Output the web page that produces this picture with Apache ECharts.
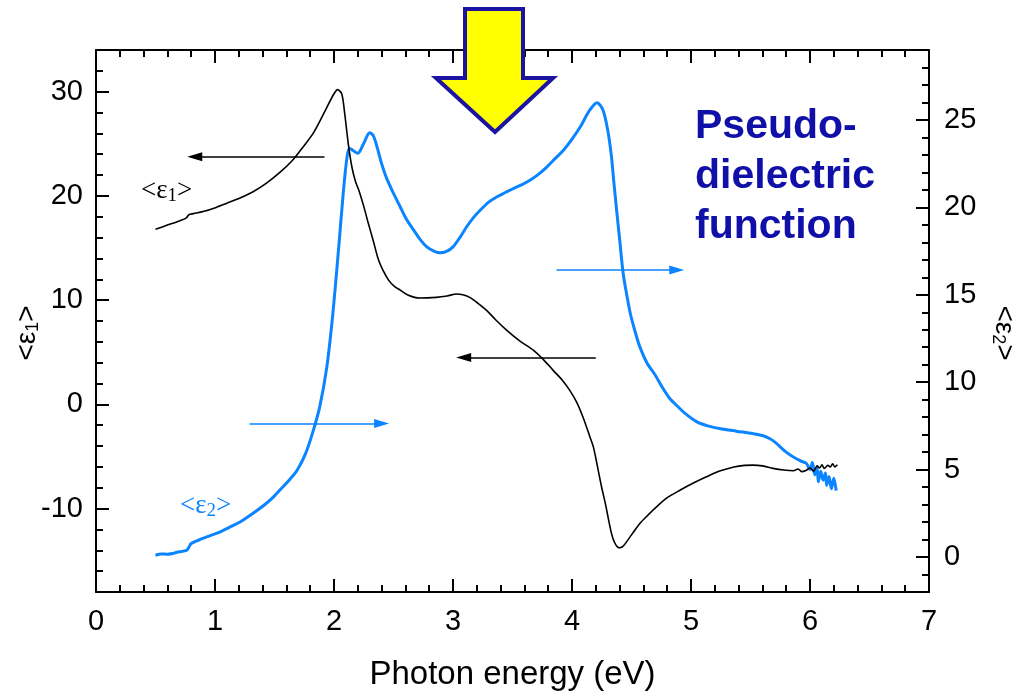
<!DOCTYPE html>
<html>
<head>
<meta charset="utf-8">
<script src="https://cdn.jsdelivr.net/npm/echarts@6/dist/echarts.min.js"></script>
<style>
html,body{margin:0;padding:0;background:#fff;}
#chart{width:1026px;height:693px;}
</style>
</head>
<body>
<div id="chart"></div>
<script>
// ---- data ----
const energy1 = [0.50,0.60,0.70,0.76,0.78,0.82,0.90,1.01,1.10,1.21,1.32,1.43,1.55,1.65,1.72,1.83,1.94,2.00,2.03,2.065,2.09,2.12,2.15,2.18,2.21,2.25,2.29,2.33,2.37,2.41,2.46,2.51,2.555,2.62,2.72,2.86,2.95,3.03,3.09,3.14,3.21,3.28,3.36,3.45,3.56,3.675,3.76,3.84,3.92,3.98,4.04,4.095,4.15,4.18,4.22,4.25,4.28,4.33,4.36,4.40,4.43,4.47,4.52,4.57,4.64,4.71,4.80,4.91,5.02,5.13,5.24,5.36,5.45,5.52,5.60,5.69,5.78,5.86,5.90,5.93,5.97,6.00,6.03,6.06,6.08,6.10,6.12,6.15,6.17,6.19,6.21,6.23];
const eps1 = [16.8,17.2,17.6,17.9,18.2,18.3,18.5,18.9,19.3,19.8,20.4,21.2,22.3,23.4,24.4,26.1,28.5,29.8,30.2,29.8,27.9,25.0,22.8,21.4,20.5,19.0,17.3,15.7,14.0,12.9,11.9,11.3,10.97,10.5,10.2,10.27,10.4,10.59,10.5,10.27,9.7,9.05,8.1,7.13,6.1,5.21,4.3,3.29,2.3,1.37,0.2,-1.3,-3.1,-4.1,-6.3,-8.0,-9.5,-12.3,-13.3,-13.76,-13.6,-13.0,-12.2,-11.42,-10.6,-9.83,-8.95,-8.22,-7.55,-6.95,-6.4,-6.0,-5.85,-5.83,-5.9,-6.14,-6.3,-6.37,-6.2,-6.45,-6.31,-6.1,-6.4,-5.9,-6.1,-5.8,-6.15,-5.85,-6.0,-5.7,-6.0,-5.8];

const energy2 = [0.50,0.55,0.60,0.70,0.76,0.78,0.80,0.86,0.95,1.04,1.12,1.21,1.32,1.43,1.50,1.57,1.63,1.69,1.76,1.82,1.88,1.94,1.99,2.04,2.08,2.11,2.13,2.16,2.20,2.25,2.30,2.33,2.36,2.40,2.44,2.50,2.555,2.61,2.67,2.72,2.78,2.84,2.89,2.95,3.00,3.06,3.115,3.17,3.23,3.30,3.37,3.44,3.51,3.58,3.65,3.72,3.79,3.86,3.93,4.00,4.07,4.15,4.21,4.26,4.30,4.33,4.35,4.38,4.40,4.43,4.46,4.49,4.53,4.57,4.63,4.70,4.76,4.82,4.89,4.95,5.05,5.14,5.24,5.38,5.52,5.60,5.66,5.70,5.75,5.80,5.86,5.92,5.97,6.00,6.02,6.04,6.06,6.07,6.09,6.11,6.13,6.14,6.16,6.18,6.20,6.22];
const eps2 = [0.10,0.18,0.16,0.30,0.38,0.55,0.77,0.96,1.2,1.43,1.7,2.0,2.5,3.06,3.5,4.01,4.45,4.96,5.9,7.1,8.59,10.88,13.9,17.74,21.0,22.9,23.38,23.25,23.09,23.66,24.27,24.1,23.5,22.5,21.7,20.8,20.05,19.3,18.7,18.2,17.74,17.5,17.4,17.5,17.74,18.3,18.89,19.4,19.85,20.3,20.61,20.85,21.09,21.3,21.56,21.9,22.32,22.8,23.28,23.9,24.61,25.57,25.99,25.57,24.42,23.0,21.56,19.5,18.2,16.22,15.0,13.93,12.9,12.02,11.1,10.4,9.7,9.08,8.6,8.22,7.73,7.5,7.35,7.2,7.06,6.95,6.78,6.6,6.30,6.0,5.72,5.5,5.35,5.0,5.4,4.7,5.06,4.3,4.9,4.4,4.8,4.1,4.6,3.9,4.5,3.8];

const leftMajor = [-10,0,10,20,30];
const rightMajor = [0,5,10,15,20,25];

// annotation arrows in data units: [xStart, xEnd, y]
const blackArrows = [[1.92,0.83,23.75],[4.20,3.09,4.5]];
const blueArrows = [[1.29,2.40,7.64],[3.87,4.88,16.41]];

const FONT = '"Liberation Sans", Arial, sans-serif';
const SERIF = '"Liberation Serif", "Times New Roman", serif';

const zip = (a,b) => a.map((v,i)=>[v,b[i]]);
const arrowData = arr => arr.map(a => [{coord:[a[0],a[2]]},{coord:[a[1],a[2]]}]);

const lineCol = {color:'#000', width:2};
const gridRect = {left:96, right:97, top:50, bottom:101, containLabel:false, outerBoundsMode:'none'};
const baseX = {
  type:'value', min:0, max:7, interval:1, gridIndex:0,
  axisLine:{show:true, onZero:false, lineStyle:lineCol},
  axisTick:{show:true, inside:true, length:13, lineStyle:lineCol},
  minorTick:{show:true, splitNumber:5, length:7, lineStyle:lineCol},
  splitLine:{show:false}, minorSplitLine:{show:false}
};
const nameRich = {
  a:{fontSize:28, fontFamily:FONT, color:'#000'},
  s:{fontSize:18, fontFamily:FONT, color:'#000', padding:[11,0,0,0]}
};

const chart = echarts.init(document.getElementById('chart'), null, {renderer:'canvas'});
chart.setOption({
  animation:false,
  backgroundColor:'#fff',
  grid:[Object.assign({}, gridRect), Object.assign({}, gridRect)],
  xAxis:[
    Object.assign({}, baseX, {
      position:'bottom',
      axisLabel:{show:true, color:'#000', fontSize:29, fontFamily:FONT, margin:15},
      name:'Photon energy (eV)', nameLocation:'middle', nameGap:66,
      nameTextStyle:{color:'#000', fontSize:33, fontFamily:FONT}
    }),
    Object.assign({}, baseX, {position:'top', axisLabel:{show:false}}),
    {type:'value', gridIndex:1, min:0, max:7, interval:1, show:false}
  ],
  yAxis:[
    {
      type:'value', gridIndex:0, min:-18, max:34, interval:2, position:'left',
      axisLine:{show:true, onZero:false, lineStyle:lineCol},
      axisTick:{show:true, inside:true, length:7, lineStyle:lineCol},
      axisLabel:{color:'#000', fontSize:29, fontFamily:FONT, margin:13,
        formatter: v => (leftMajor.indexOf(v) >= 0 ? String(v) : '')},
      splitLine:{show:false},
      name:'{a|<ε}{s|1}{a|>}', nameLocation:'middle', nameRotate:90, nameGap:54,
      nameMoveOverlap:false,
      nameTextStyle:{rich:nameRich, padding:[0,24,0,0]}
    },
    {
      type:'value', gridIndex:0, min:-2, max:29, interval:1, position:'right',
      axisLine:{show:true, onZero:false, lineStyle:lineCol},
      axisTick:{show:true, inside:true, length:7, lineStyle:lineCol},
      axisLabel:{color:'#000', fontSize:29, fontFamily:FONT, margin:15,
        formatter: v => (rightMajor.indexOf(v) >= 0 ? String(v) : '')},
      splitLine:{show:false},
      name:'{a|<ε}{s|2}{a|>}', nameLocation:'middle', nameRotate:-90, nameGap:60,
      nameTextStyle:{rich:nameRich, padding:[0,0,0,24]}
    },
    {
      type:'value', gridIndex:1, min:-18, max:34, interval:2, position:'left',
      axisLine:{show:false},
      axisTick:{show:true, inside:true, length:13, lineStyle:lineCol, customValues:leftMajor},
      axisLabel:{show:false}, splitLine:{show:false}
    },
    {
      type:'value', gridIndex:1, min:-2, max:29, interval:1, position:'right',
      axisLine:{show:false},
      axisTick:{show:true, inside:true, length:13, lineStyle:lineCol, customValues:rightMajor},
      axisLabel:{show:false}, splitLine:{show:false}
    }
  ],
  series:[
    {
      type:'line', name:'<ε1>', xAxisIndex:0, yAxisIndex:0,
      data:zip(energy1, eps1), symbol:'none', smooth:0.3,
      lineStyle:{color:'#000', width:1.6}, emphasis:{disabled:true}, z:3,
      markLine:{silent:true, symbol:['none','triangle'], symbolSize:[9,15],
        label:{show:false}, lineStyle:{color:'#000', width:1.5, type:'solid'},
        emphasis:{disabled:true}, data:arrowData(blackArrows)}
    },
    {
      type:'line', name:'<ε2>', xAxisIndex:0, yAxisIndex:1,
      data:zip(energy2, eps2), symbol:'none', smooth:0.3,
      lineStyle:{color:'#0A84FF', width:3}, emphasis:{disabled:true}, z:2,
      markLine:{silent:true, symbol:['none','triangle'], symbolSize:[9,15],
        label:{show:false}, lineStyle:{color:'#0A84FF', width:1.5, type:'solid'},
        emphasis:{disabled:true}, data:arrowData(blueArrows)}
    }
  ],
  graphic:[
    {
      type:'polygon', z:100,
      shape:{points:[[465,9],[523,9],[523,78],[553,78],[495,132],[436,78],[465,78]]},
      style:{fill:'#FFFF00', stroke:'#1C14A0', lineWidth:4, lineJoin:'miter'}
    },
    {
      type:'text', z:100, left:695, top:102,
      style:{text:'Pseudo-\ndielectric\nfunction', font:'bold 41px ' + FONT, fill:'#1010A8', lineHeight:50}
    },
    {
      type:'text', z:100, left:141, top:177,
      style:{text:'{a|<ε}{s|1}{a|>}', rich:{
        a:{fontSize:27, fontFamily:SERIF, fill:'#000'},
        s:{fontSize:19, fontFamily:SERIF, fill:'#000', padding:[11,0,0,0]}
      }}
    },
    {
      type:'text', z:100, left:180, top:492,
      style:{text:'{a|<ε}{s|2}{a|>}', rich:{
        a:{fontSize:27, fontFamily:SERIF, fill:'#0A84FF'},
        s:{fontSize:19, fontFamily:SERIF, fill:'#0A84FF', padding:[11,0,0,0]}
      }}
    }
  ]
});
</script>
</body>
</html>
